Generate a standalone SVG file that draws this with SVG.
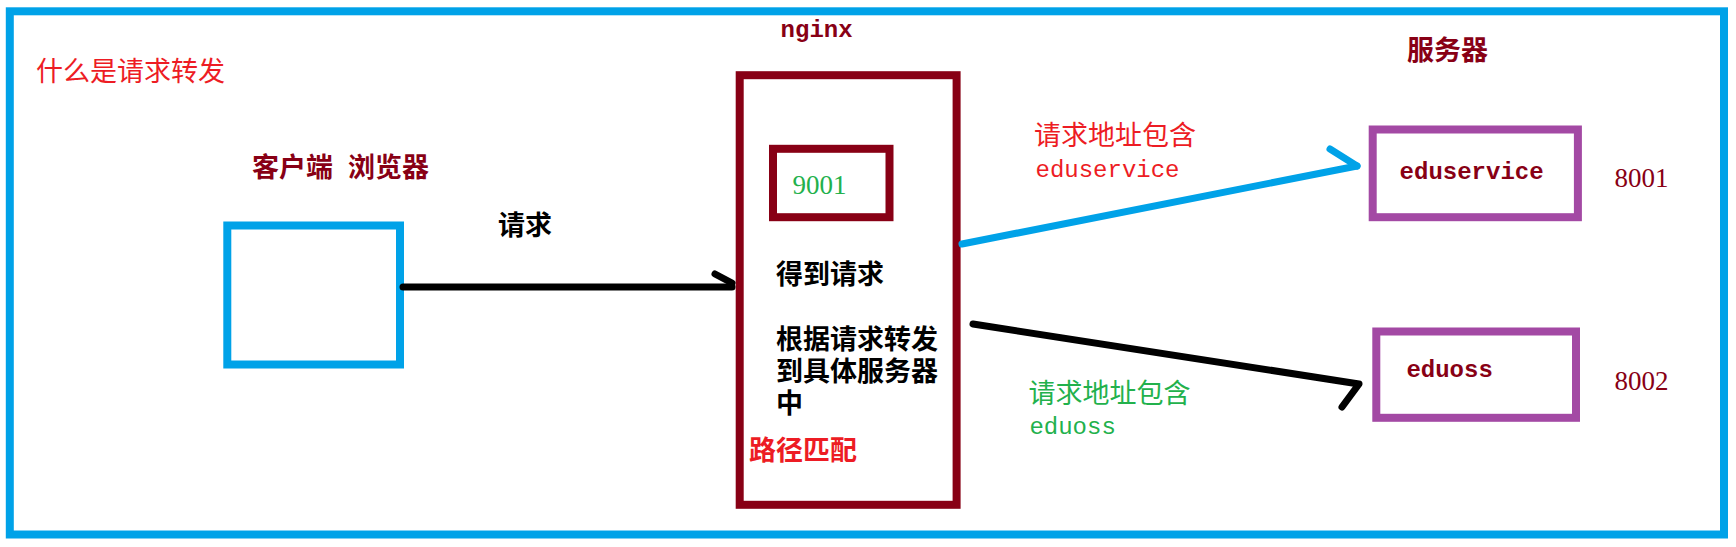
<svg xmlns="http://www.w3.org/2000/svg" width="1736" height="547" viewBox="0 0 1736 547">
<style>
.cjk{font-family:"Noto Sans CJK SC","Noto Sans",sans-serif;font-size:27px}
.b{font-weight:bold}
.mono{font-family:"Liberation Mono",monospace;font-size:24px;font-weight:bold}
.num{font-family:"Liberation Serif",serif;font-size:27px}
.red{fill:#ed1c24}.dred{fill:#880015}.green{fill:#22b14c}.blk{fill:#000}
.box{fill:none;stroke-width:8}
.line{fill:none;stroke-linecap:round;stroke-linejoin:round}
</style>
<rect width="1736" height="547" fill="#fff"/>
<g id="frame">
<rect x="9.8" y="11.3" width="1714.2" height="523.2" class="box" stroke="#00a2e8"/>
<text x="36" y="81" class="cjk red">什么是请求转发</text>
</g>
<g id="client">
<rect x="227.3" y="225.5" width="172.7" height="139" class="box" stroke="#00a2e8"/>
<text y="177" class="cjk b dred"><tspan x="252">客户端</tspan><tspan x="348">浏览器</tspan></text>
</g>
<g id="nginx">
<text x="780.6" y="36.5" class="mono dred">nginx</text>
<rect x="739.7" y="75.2" width="216.9" height="429.6" class="box" stroke="#880015"/>
<rect x="773" y="148.8" width="116.5" height="68.4" class="box" stroke="#880015"/>
<text x="792.5" y="194.3" class="num green">9001</text>
<text x="776" y="284" class="cjk b blk">得到请求</text>
<text class="cjk b blk"><tspan x="776" y="349">根据请求转发</tspan><tspan x="776" y="381">到具体服务器</tspan><tspan x="776" y="413">中</tspan></text>
<text x="749" y="460" class="cjk b red">路径匹配</text>
</g>
<g id="eduservice">
<text x="1407" y="60" class="cjk b dred">服务器</text>
<rect x="1372.7" y="129.5" width="205.2" height="87.7" class="box" stroke="#a349a4"/>
<text x="1399.6" y="179" class="mono dred">eduservice</text>
<text x="1614.5" y="186.7" class="num dred">8001</text>
</g>
<g id="eduoss">
<rect x="1376.3" y="331.5" width="199.7" height="86.3" class="box" stroke="#a349a4"/>
<text x="1406.4" y="377" class="mono dred">eduoss</text>
<text x="1614.5" y="390" class="num dred">8002</text>
</g>
<g id="connectors">
<polyline points="403,287 732,287" class="line" stroke="#000" stroke-width="7"/>
<polyline points="715,274 732,283" class="line" stroke="#000" stroke-width="7"/>
<text x="498" y="235" class="cjk b blk">请求</text>
<polyline points="962,244 1357,166" class="line" stroke="#00a2e8" stroke-width="7"/>
<polyline points="1330,149 1357,166" class="line" stroke="#00a2e8" stroke-width="7"/>
<text x="1034" y="145" class="cjk red">请求地址包含</text>
<text x="1035.5" y="176.7" class="mono red" style="font-weight:normal">eduservice</text>
<polyline points="973,324 1359,384 1342,407" class="line" stroke="#000" stroke-width="7"/>
<text x="1028.6" y="403" class="cjk green">请求地址包含</text>
<text x="1029.4" y="434" class="mono green" style="font-weight:normal">eduoss</text>
</g>
</svg>
